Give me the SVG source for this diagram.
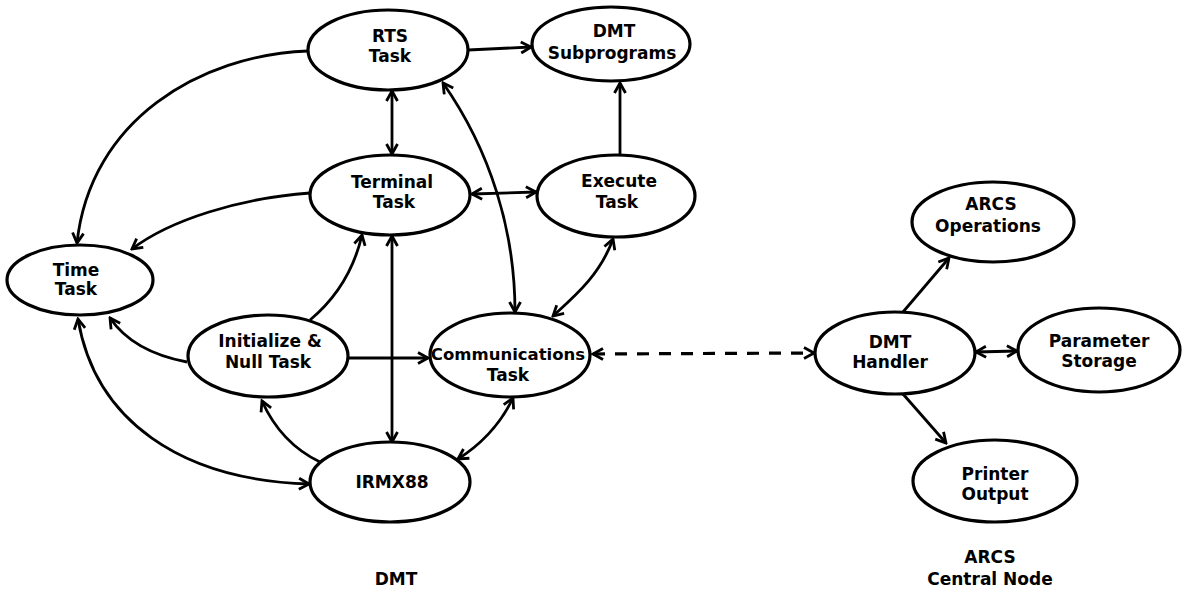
<svg xmlns="http://www.w3.org/2000/svg" width="1189" height="590" viewBox="0 0 1189 590">
<style>
.n ellipse{fill:#fff;stroke:#000;stroke-width:3.2}
text{font-family:"DejaVu Sans","Liberation Sans",sans-serif;font-weight:bold;font-size:17px;text-anchor:middle;fill:#000}
.c path{fill:none;stroke:#000;stroke-width:2.8}
.s{marker-end:url(#ah)}
.d{marker-start:url(#ah);marker-end:url(#ah)}
</style>
<defs>
<marker id="ah" markerUnits="userSpaceOnUse" markerWidth="14" markerHeight="14" viewBox="0 0 14 14" refX="12" refY="7" orient="auto-start-reverse">
<path d="M2,1.5 L12,7 L2,12.5" fill="none" stroke="#000" stroke-width="2.8"/>
</marker>
</defs>
<g id="connectors" class="c">
<path class="s" d="M468,50 L531,47"/>
<path class="d" d="M392,91 L392,154"/>
<path class="s" d="M308,51 C200,55 90,120 77,243"/>
<path class="s" d="M310,193 C240,198 170,220 132,249"/>
<path class="d" d="M472,194 L536,192"/>
<path class="s" d="M620,155 L620,83"/>
<path class="d" d="M443,83 C490,150 515,230 515,312"/>
<path class="d" d="M613,239 C600,275 575,296 553,316"/>
<path class="d" d="M392,236 L392,442"/>
<path class="s" d="M310,320 C340,295 355,265 362,235"/>
<path class="s" d="M187,362 C150,355 125,340 110,318"/>
<path class="s" d="M348,358 L428,358"/>
<path class="d" d="M78,319 C95,420 180,480 309,484"/>
<path class="s" d="M320,462 C295,450 275,430 262,401"/>
<path class="d" d="M513,398 C500,425 480,445 458,459"/>
<path class="d" d="M593,354 L814,353" stroke-dasharray="12 10" style="stroke-width:3.2"/>
<path class="s" d="M903,312 L949,258"/>
<path class="d" d="M976,352 L1017,351"/>
<path class="s" d="M903,394 L946,443"/>
</g>
<g id="rts" class="n"><ellipse cx="388" cy="50" rx="80" ry="40"/><text x="390" y="42">RTS</text><text x="390" y="62">Task</text></g>
<g id="dmtsub" class="n"><ellipse cx="611" cy="44" rx="79" ry="37"/><text x="614" y="37">DMT</text><text x="612" y="59">Subprograms</text></g>
<g id="terminal" class="n"><ellipse cx="390" cy="195" rx="80" ry="40"/><text x="392" y="188">Terminal</text><text x="394" y="208">Task</text></g>
<g id="execute" class="n"><ellipse cx="616" cy="196" rx="79" ry="41"/><text x="619" y="187">Execute</text><text x="617" y="208">Task</text></g>
<g id="time" class="n"><ellipse cx="80" cy="280" rx="73" ry="35"/><text x="76" y="276">Time</text><text x="76" y="295">Task</text></g>
<g id="init" class="n"><ellipse cx="268" cy="356" rx="80" ry="41"/><text x="270" y="347">Initialize &amp;</text><text x="268" y="368">Null Task</text></g>
<g id="comm" class="n"><ellipse cx="510" cy="355" rx="80" ry="42"/><text x="508" y="360" style="font-size:16.5px">Communications</text><text x="508" y="381">Task</text></g>
<g id="irmx" class="n"><ellipse cx="390" cy="482" rx="80" ry="40"/><text x="392" y="488">IRMX88</text></g>
<g id="arcsops" class="n"><ellipse cx="993" cy="222" rx="81" ry="40"/><text x="991" y="210">ARCS</text><text x="988" y="232">Operations</text></g>
<g id="handler" class="n"><ellipse cx="895" cy="353" rx="80" ry="41"/><text x="890" y="348">DMT</text><text x="890" y="368">Handler</text></g>
<g id="param" class="n"><ellipse cx="1099" cy="350" rx="81" ry="42"/><text x="1099" y="347">Parameter</text><text x="1099" y="367">Storage</text></g>
<g id="printer" class="n"><ellipse cx="995" cy="481" rx="82" ry="41"/><text x="995" y="480">Printer</text><text x="995" y="500">Output</text></g>
<g id="labels">
<text x="396" y="585">DMT</text>
<text x="990" y="563">ARCS</text>
<text x="990" y="585">Central Node</text>
</g>
</svg>
